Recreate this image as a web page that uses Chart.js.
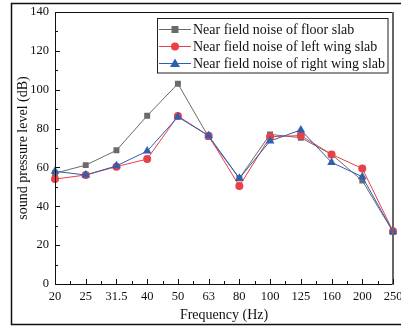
<!DOCTYPE html>
<html>
<head>
<meta charset="utf-8">
<script src="https://cdn.jsdelivr.net/npm/chart.js@4"></script>
<style>
  html, body { margin: 0; padding: 0; background: #fff; }
  #wrap { width: 401px; height: 328px; }
</style>
</head>
<body>
<div id="wrap"><canvas id="c" width="401" height="328"></canvas></div>
<script>
// One-third octave band centre frequencies (Hz)
const frequencies = ['20', '25', '31.5', '40', '50', '63', '80', '100', '125', '160', '200', '250'];

// Near-field sound pressure levels (dB)
const floorSlab     = [57, 61.2, 68.8, 86.6, 103.1, 75.6, 54.4, 77.0, 75.3, 66.7, 53.2, 26.9];
const leftWingSlab  = [54, 56.1, 60.4, 64.3, 86.5, 76.3, 50.4, 75.8, 76.4, 66.7, 59.5, 27.2];
const rightWingSlab = [58, 56.1, 60.8, 68.4, 86.0, 76.3, 54.4, 73.6, 79.3, 62.6, 55.2, 26.9];

const seriesNames = [
  'Near field noise of floor slab',
  'Near field noise of left wing slab',
  'Near field noise of right wing slab'
];

const yTicks = [0, 20, 40, 60, 80, 100, 120, 140];

const SERIF = '"Liberation Serif", "Times New Roman", serif';
const GRAY = '#6a6a6a', RED = '#ea3f46', BLUE = '#2f5fae';

// Frame, inward tick marks, outer border and boxed legend
const framePlugin = {
  id: 'frame',
  afterDraw(chart) {
    const ctx = chart.ctx;
    const { left, right, top, bottom } = chart.chartArea;
    const xs = chart.scales.x, ys = chart.scales.y;
    ctx.save();

    // outer figure border
    ctx.strokeStyle = '#111';
    ctx.lineWidth = 1.5;
    ctx.beginPath();
    ctx.moveTo(403, 3.5); ctx.lineTo(11.5, 3.5); ctx.lineTo(11.5, 324.5); ctx.lineTo(403, 324.5);
    ctx.stroke();

    // plot frame
    ctx.lineWidth = 1;
    ctx.strokeStyle = '#111';
    ctx.beginPath();
    ctx.moveTo(left + 0.5, top + 0.5); ctx.lineTo(right, top + 0.5);
    ctx.moveTo(left + 0.5, top); ctx.lineTo(left + 0.5, bottom + 0.5); ctx.lineTo(right, bottom + 0.5);
    ctx.stroke();
    ctx.strokeStyle = '#666';
    ctx.lineWidth = 2;
    ctx.beginPath();
    ctx.moveTo(right, top); ctx.lineTo(right, bottom + 1);
    ctx.stroke();

    // y ticks (major + minor), pointing inward
    ctx.strokeStyle = '#111';
    ctx.lineWidth = 1;
    ctx.beginPath();
    for (let v = 0; v <= 140; v += 10) {
      const y = Math.round(ys.getPixelForValue(v)) + 0.5;
      const len = (v % 20 === 0) ? 5 : 3;
      ctx.moveTo(left, y); ctx.lineTo(left + len, y);
    }
    // x ticks (major at categories, minor between)
    for (let i = 0; i < frequencies.length; i++) {
      const x = Math.round(xs.getPixelForValue(i)) + 0.5;
      ctx.moveTo(x, bottom); ctx.lineTo(x, bottom - 5);
      if (i < frequencies.length - 1) {
        const xm = Math.round((xs.getPixelForValue(i) + xs.getPixelForValue(i + 1)) / 2) + 0.5;
        ctx.moveTo(xm, bottom); ctx.lineTo(xm, bottom - 3);
      }
    }
    ctx.stroke();

    // legend
    const lx = 157.5, ly = 18.5, lw = 230.5, lh = 54.5;
    ctx.fillStyle = '#fff';
    ctx.fillRect(lx, ly, lw, lh);
    ctx.strokeStyle = '#222';
    ctx.lineWidth = 1;
    ctx.strokeRect(lx, ly, lw, lh);
    const rows = [29, 46, 63];
    chart.data.datasets.forEach((ds, i) => {
      const y = rows[i];
      ctx.strokeStyle = ds.borderColor;
      ctx.lineWidth = 1;
      ctx.beginPath();
      ctx.moveTo(159, y + 0.5); ctx.lineTo(191, y + 0.5);
      ctx.stroke();
      ctx.fillStyle = ds.pointBackgroundColor;
      const mx = 175, my = y + 0.5;
      ctx.beginPath();
      if (ds.pointStyle === 'rect') {
        ctx.rect(mx - 3.5, my - 3.5, 7, 7);
      } else if (ds.pointStyle === 'circle') {
        ctx.arc(mx, my, 4, 0, Math.PI * 2);
      } else {
        ctx.moveTo(mx, my - 5); ctx.lineTo(mx + 5, my + 3.5); ctx.lineTo(mx - 5, my + 3.5); ctx.closePath();
      }
      ctx.fill();
      ctx.fillStyle = '#111';
      ctx.font = '14px ' + SERIF;
      ctx.textBaseline = 'middle';
      ctx.textAlign = 'left';
      ctx.fillText(ds.label, 193, y + 1);
    });
    ctx.restore();
  }
};

new Chart(document.getElementById('c'), {
  type: 'line',
  data: {
    labels: frequencies,
    datasets: [
      {
        label: seriesNames[0], data: floorSlab, order: 2,
        borderColor: GRAY, backgroundColor: GRAY, pointBackgroundColor: GRAY, pointBorderColor: GRAY,
        pointStyle: 'rect', pointRadius: 4.2, borderWidth: 1, pointBorderWidth: 0
      },
      {
        label: seriesNames[1], data: leftWingSlab, order: 1,
        borderColor: RED, backgroundColor: RED, pointBackgroundColor: RED, pointBorderColor: RED,
        pointStyle: 'circle', pointRadius: 4, borderWidth: 1, pointBorderWidth: 0
      },
      {
        label: seriesNames[2], data: rightWingSlab, order: 0,
        borderColor: BLUE, backgroundColor: BLUE, pointBackgroundColor: BLUE, pointBorderColor: BLUE,
        pointStyle: 'triangle', pointRadius: 5, borderWidth: 1, pointBorderWidth: 0
      }
    ]
  },
  options: {
    responsive: false,
    animation: false,
    events: [],
    layout: { padding: { left: 11, right: 8, top: 12, bottom: 0 } },
    plugins: { legend: { display: false }, tooltip: { enabled: false } },
    scales: {
      x: {
        type: 'category',
        offset: false,
        grid: { display: false, drawTicks: false },
        border: { display: false },
        ticks: { color: '#111', font: { family: SERIF, size: 12.5 }, padding: 5, maxRotation: 0, autoSkip: false },
        title: { display: true, text: 'Frequency (Hz)', color: '#111', font: { family: SERIF, size: 14 } },
        afterFit(s) { s.height = 44; s.paddingLeft = 0; s.paddingRight = 0; }
      },
      y: {
        min: 0, max: 140,
        afterBuildTicks(s) { s.ticks = yTicks.map(v => ({ value: v })); },
        grid: { display: false, drawTicks: false },
        border: { display: false },
        ticks: { color: '#111', font: { family: SERIF, size: 12.5 }, padding: 6 },
        title: { display: true, text: 'sound pressure level (dB)', color: '#111', font: { family: SERIF, size: 14 } },
        afterFit(s) { s.width = 44; s.paddingTop = 0; s.paddingBottom = 0; }
      }
    }
  },
  plugins: [framePlugin]
});
</script>
</body>
</html>
